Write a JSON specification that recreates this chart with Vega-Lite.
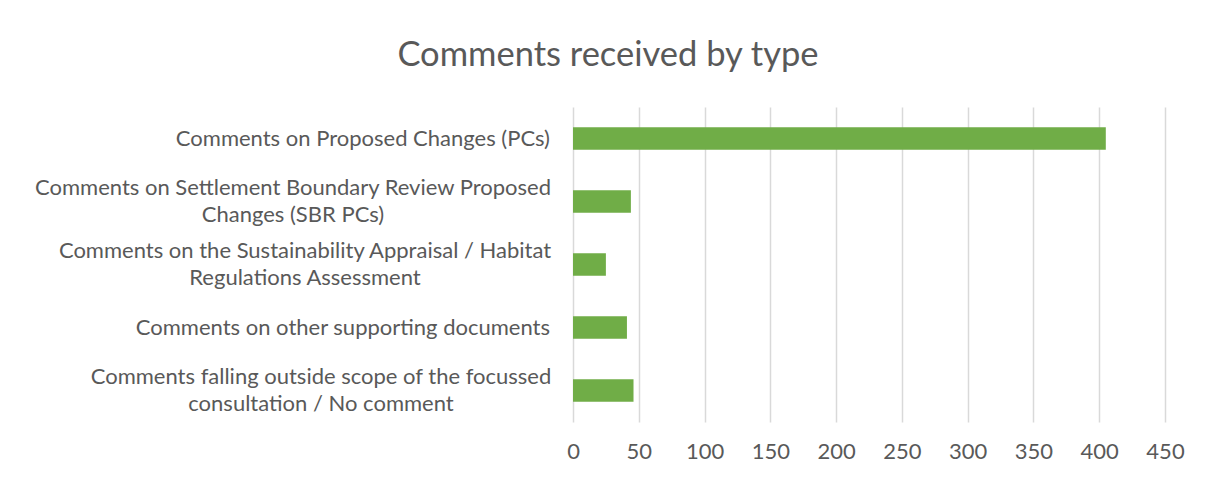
{
  "$schema": "https://vega.github.io/schema/vega-lite/v6.json",
  "width": 592,
  "height": 315,
  "autosize": {"type": "none"},
  "padding": {"left": 573, "top": 107, "right": 51, "bottom": 58},
  "background": "white",
  "title": {
    "text": "Comments received by type",
    "font": "Lato",
    "fontSize": 34.5,
    "fontWeight": "normal",
    "color": "#595959",
    "anchor": "middle",
    "frame": "group",
    "dx": -261,
    "offset": 34
  },
  "data": {
    "values": [
      {"type": "Comments on Proposed Changes (PCs)", "count": 405},
      {"type": "Comments on Settlement Boundary Review Proposed\nChanges (SBR PCs)", "count": 44},
      {"type": "Comments on the Sustainability Appraisal / Habitat\nRegulations Assessment", "count": 25},
      {"type": "Comments on other supporting documents", "count": 41},
      {"type": "Comments falling outside scope of the focussed\nconsultation / No comment", "count": 46}
    ]
  },
  "encoding": {
    "y": {
      "field": "type",
      "type": "nominal",
      "sort": null,
      "scale": {"paddingInner": 0.646, "paddingOuter": 0.323},
      "axis": {
        "title": null,
        "domain": false,
        "ticks": false,
        "grid": false,
        "labels": false
      }
    }
  },
  "layer": [
    {
      "mark": {"type": "bar", "color": "#70ad47"},
      "encoding": {
        "x": {
          "field": "count",
          "type": "quantitative",
          "scale": {"domain": [0, 450], "nice": false},
          "axis": {
            "title": null,
            "values": [0, 50, 100, 150, 200, 250, 300, 350, 400, 450],
            "domain": false,
            "ticks": false,
            "grid": true,
            "gridColor": "#d9d9d9",
            "gridWidth": 1.5,
            "labelFont": "Lato",
            "labelFontSize": 22,
            "labelColor": "#595959",
            "labelPadding": 19,
            "labelFlush": false
          }
        }
      }
    },
    {
      "mark": {
        "type": "text",
        "font": "Lato",
        "fontSize": 22,
        "color": "#595959",
        "lineHeight": 27,
        "lineBreak": "\n",
        "baseline": "middle",
        "align": {"expr": "indexof(datum.type, '\\n') >= 0 ? 'center' : 'right'"},
        "dx": {"expr": "indexof(datum.type, 'Settlement') >= 0 ? -280 : indexof(datum.type, 'Sustainability') >= 0 ? -268 : indexof(datum.type, 'falling') >= 0 ? -252 : -23"},
        "dy": {"expr": "indexof(datum.type, '\\n') >= 0 ? -13.5 : 0"}
      },
      "encoding": {
        "x": {"datum": 0, "type": "quantitative"},
        "text": {"field": "type", "type": "nominal"}
      }
    }
  ],
  "config": {"view": {"stroke": null}}
}
